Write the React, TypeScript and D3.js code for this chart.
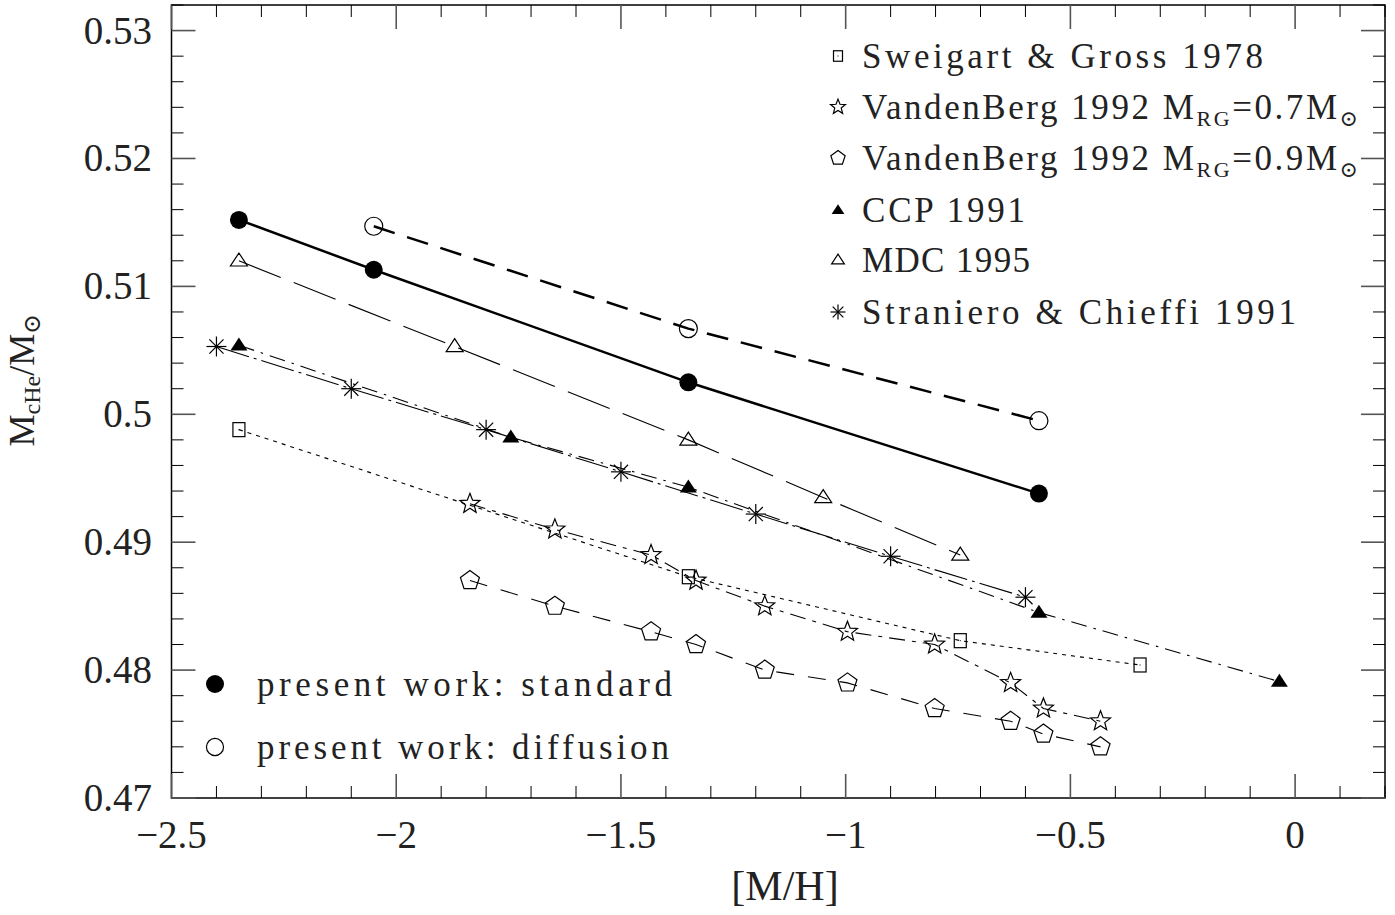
import React from "react";
import * as d3 from "d3";

// ---- data ----
const stdX = [-2.35, -2.05, -1.35, -0.57];
const stdY = [0.5152, 0.5113, 0.5025, 0.4938];
const difX = [-2.05, -1.35, -0.57];
const difY = [0.5147, 0.5067, 0.4995];
const mdcX = [-2.35, -1.87, -1.35, -1.05, -0.745];
const mdcY = [0.512, 0.5053, 0.498, 0.4935, 0.489];
const ccpX = [-2.35, -1.745, -1.35, -0.57, -0.035];
const ccpY = [0.5054, 0.4982, 0.4943, 0.4845, 0.4791];
const scX = [-2.4, -2.1, -1.8, -1.5, -1.2, -0.9, -0.6];
const scY = [0.5053, 0.502, 0.4988, 0.4955, 0.4922, 0.4889, 0.4857];
const sgX = [-2.35, -1.35, -0.745, -0.345];
const sgY = [0.4988, 0.4873, 0.4823, 0.4804];
const vb7X = [-1.836, -1.647, -1.433, -1.333, -1.18, -0.996, -0.802, -0.633, -0.56, -0.433];
const vb7Y = [0.493, 0.491, 0.489, 0.487, 0.485, 0.483, 0.482, 0.479, 0.477, 0.476];
const vb9X = [-1.836, -1.647, -1.433, -1.333, -1.18, -0.996, -0.802, -0.633, -0.56, -0.433];
const vb9Y = [0.487, 0.485, 0.483, 0.482, 0.48, 0.479, 0.477, 0.476, 0.475, 0.474];

const xTicks = [-2.5, -2, -1.5, -1, -0.5, 0];
const xTickLabels = ["−2.5", "−2", "−1.5", "−1", "−0.5", "0"];
const yTicks = [0.47, 0.48, 0.49, 0.5, 0.51, 0.52, 0.53];
const yTickLabels = ["0.47", "0.48", "0.49", "0.5", "0.51", "0.52", "0.53"];

const W = 1395, H = 915;
const L = 171.5, R = 1385, T = 5, B = 798;
const FONT = "'Liberation Serif', 'DejaVu Serif', serif";

const x = d3.scaleLinear().domain([-2.5, 0.2]).range([L, R]);
const y = d3.scaleLinear().domain([0.47, 0.532]).range([B, T]);

type Kind = "fcircle" | "ocircle" | "otri" | "ftri" | "square" | "star" | "pent" | "aster";

function Marker({ kind, cx, cy, s = 1 }: { kind: Kind; cx: number; cy: number; s?: number }) {
  const sw = 1.2;
  switch (kind) {
    case "fcircle":
      return <circle cx={cx} cy={cy} r={9 * s} fill="#000" />;
    case "ocircle":
      return <circle cx={cx} cy={cy} r={9 * s} fill="none" stroke="#000" strokeWidth={sw} />;
    case "otri":
    case "ftri": {
      const h = 13 * s, w = 8.5 * s;
      const p = `M${cx},${cy - h * 0.6}L${cx + w},${cy + h * 0.4}L${cx - w},${cy + h * 0.4}Z`;
      return kind === "ftri" ? (
        <path d={p} fill="#000" />
      ) : (
        <path d={p} fill="none" stroke="#000" strokeWidth={sw} />
      );
    }
    case "square":
      return (
        <g>
          <rect x={cx - 6 * s} y={cy - 7 * s} width={12 * s} height={14 * s} fill="none" stroke="#000" strokeWidth={sw} />
          <rect x={cx - 0.5} y={cy - 0.5} width={1} height={1} fill="#000" />
        </g>
      );
    case "star": {
      const pts: string[] = [];
      for (let i = 0; i < 10; i++) {
        const r = (i % 2 === 0 ? 10.5 : 4.5) * s;
        const a = -Math.PI / 2 + (i * Math.PI) / 5;
        pts.push(`${cx + r * Math.cos(a)},${cy + r * Math.sin(a)}`);
      }
      return <polygon points={pts.join(" ")} fill="none" stroke="#000" strokeWidth={sw} />;
    }
    case "pent": {
      const pts: string[] = [];
      for (let i = 0; i < 5; i++) {
        const r = 10 * s;
        const a = -Math.PI / 2 + (i * 2 * Math.PI) / 5;
        pts.push(`${cx + r * Math.cos(a)},${cy + r * Math.sin(a)}`);
      }
      return <polygon points={pts.join(" ")} fill="none" stroke="#000" strokeWidth={sw} />;
    }
    case "aster": {
      const r = 10 * s;
      const lines = [];
      for (let i = 0; i < 4; i++) {
        const a = (i * Math.PI) / 4;
        lines.push(
          <line key={i} x1={cx - r * Math.cos(a)} y1={cy - r * Math.sin(a)} x2={cx + r * Math.cos(a)} y2={cy + r * Math.sin(a)} stroke="#000" strokeWidth={1.2} />
        );
      }
      return <g>{lines}</g>;
    }
  }
  return null;
}

interface Series {
  xs: number[];
  ys: number[];
  kind: Kind;
  dash: string;
  width: number;
}

const seriesList: Series[] = [
  { xs: sgX, ys: sgY, kind: "square", dash: "4,5", width: 1.1 },
  { xs: vb7X, ys: vb7Y, kind: "star", dash: "16,7,4,7", width: 1.1 },
  { xs: vb9X, ys: vb9Y, kind: "pent", dash: "18,14", width: 1.1 },
  { xs: ccpX, ys: ccpY, kind: "ftri", dash: "16,7,2.5,7", width: 1.1 },
  { xs: mdcX, ys: mdcY, kind: "otri", dash: "45,14", width: 1.1 },
  { xs: scX, ys: scY, kind: "aster", dash: "34,5,3,5", width: 1.1 },
  { xs: stdX, ys: stdY, kind: "fcircle", dash: "", width: 2.5 },
  { xs: difX, ys: difY, kind: "ocircle", dash: "22,13", width: 2.5 },
];

const line = d3
  .line<[number, number]>()
  .x((d) => x(d[0]))
  .y((d) => y(d[1]));

function Ticks() {
  const els: JSX.Element[] = [];
  const xMinor = d3.range(-2.5, 0.2001, 0.1);
  xMinor.forEach((v, i) => {
    const major = Math.abs(v * 2 - Math.round(v * 2)) < 1e-6;
    const len = major ? 24 : 12;
    const px = x(v);
    const st = major ? "#555" : "#000";
    els.push(<line key={"xb" + i} x1={px} x2={px} y1={B} y2={B - len} stroke={st} strokeWidth={major ? 1.6 : 1} />);
    els.push(<line key={"xt" + i} x1={px} x2={px} y1={T} y2={T + len} stroke={st} strokeWidth={major ? 1.6 : 1} />);
  });
  const yMinor = d3.range(0.47, 0.5321, 0.002);
  yMinor.forEach((v, i) => {
    const major = Math.abs(v * 100 - Math.round(v * 100)) < 1e-6;
    const len = major ? 24 : 12;
    const py = y(v);
    const st = major ? "#555" : "#000";
    els.push(<line key={"yl" + i} x1={L} x2={L + len} y1={py} y2={py} stroke={st} strokeWidth={major ? 1.6 : 1} />);
    els.push(<line key={"yr" + i} x1={R} x2={R - len} y1={py} y2={py} stroke={st} strokeWidth={major ? 1.6 : 1} />);
  });
  return <g>{els}</g>;
}

const legendRight: { kind: Kind; label: React.ReactNode; len: number }[] = [
  { kind: "square", label: "Sweigart & Gross 1978", len: 401 },
  {
    kind: "star",
    label: (
      <>
        VandenBerg 1992 M<tspan fontSize="22" dy="7">RG</tspan>
        <tspan dy="-7">=0.7M</tspan>
        <tspan fontSize="22" dy="7">⊙</tspan>
      </>
    ),
    len: 496,
  },
  {
    kind: "pent",
    label: (
      <>
        VandenBerg 1992 M<tspan fontSize="22" dy="7">RG</tspan>
        <tspan dy="-7">=0.9M</tspan>
        <tspan fontSize="22" dy="7">⊙</tspan>
      </>
    ),
    len: 496,
  },
  { kind: "ftri", label: "CCP 1991", len: 163 },
  { kind: "otri", label: "MDC 1995", len: 168 },
  { kind: "aster", label: "Straniero & Chieffi 1991", len: 434 },
];
const legendRightY = [56, 107, 158, 210, 260, 312];

export default function App() {
  return (
    <svg width={W} height={H} style={{ position: "absolute", left: 0, top: 0, background: "#fff" }} fontFamily={FONT}>
      <rect x={0} y={0} width={W} height={H} fill="#fff" />
      {/* frame */}
      <rect x={L} y={T} width={R - L} height={B - T} fill="none" stroke="#000" strokeWidth={1.5} />
      <Ticks />
      {/* tick labels */}
      {yTicks.map((v, i) => (
        <text key={"yt" + i} x={152} y={y(v) + 13} fontSize={39} textAnchor="end" fill="#222">
          {yTickLabels[i]}
        </text>
      ))}
      {xTicks.map((v, i) => (
        <text key={"xt" + i} x={x(v)} y={848} fontSize={39} textAnchor="middle" fill="#222">
          {xTickLabels[i]}
        </text>
      ))}
      {/* axis titles */}
      <text x={785} y={900} fontSize={42} textAnchor="middle" fill="#222">
        [M/H]
      </text>
      <text transform="translate(34,380) rotate(-90)" fontSize={36} textAnchor="middle" fill="#222">
        M<tspan fontSize="24" dy="6">cHe</tspan>
        <tspan dy="-6">/M</tspan>
        <tspan fontSize="24" dy="6">⊙</tspan>
      </text>
      {/* series */}
      {seriesList.map((s, i) => (
        <g key={"s" + i}>
          <path
            d={line(s.xs.map((v, j) => [v, s.ys[j]] as [number, number])) || ""}
            fill="none"
            stroke="#000"
            strokeWidth={s.width}
            strokeDasharray={s.dash || undefined}
          />
          {s.xs.map((v, j) => (
            <Marker key={j} kind={s.kind} cx={x(v)} cy={y(s.ys[j])} />
          ))}
        </g>
      ))}
      {/* legend top right */}
      {legendRight.map((e, i) => (
        <g key={"lr" + i}>
          <Marker kind={e.kind} cx={838} cy={legendRightY[i]} s={0.75} />
          <text x={862} y={legendRightY[i] + 12} fontSize={35} fill="#222" textLength={e.len} lengthAdjust="spacing">
            {e.label}
          </text>
        </g>
      ))}
      {/* legend bottom left */}
      <Marker kind="fcircle" cx={215} cy={684} s={1} />
      <text x={257} y={696} fontSize={35} fill="#222" textLength={415} lengthAdjust="spacing">
        present work: standard
      </text>
      <Marker kind="ocircle" cx={215} cy={747} s={0.95} />
      <text x={257} y={759} fontSize={35} fill="#222" textLength={412} lengthAdjust="spacing">
        present work: diffusion
      </text>
    </svg>
  );
}
